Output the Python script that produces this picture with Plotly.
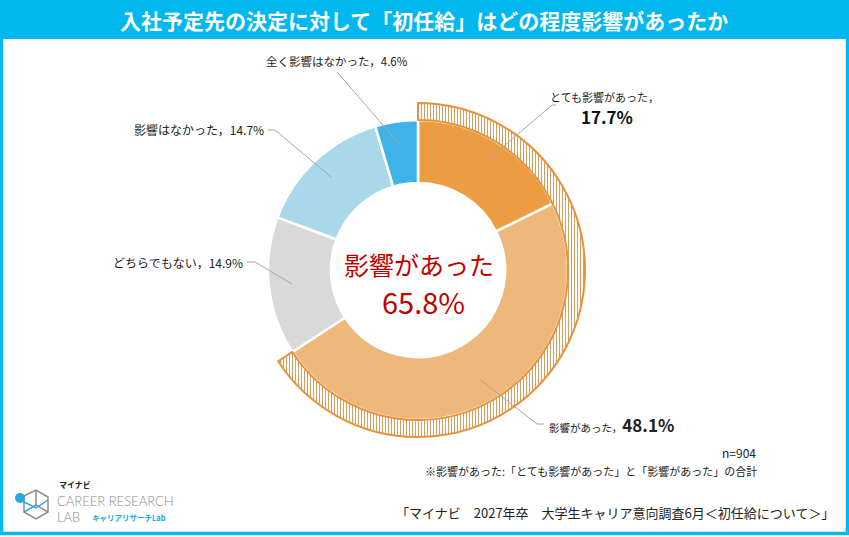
import math
import plotly.graph_objects as go

W, H = 849, 537

# ---------------- data ----------------
title = "入社予定先の決定に対して「初任給」はどの程度影響があったか"
categories = ["とても影響があった", "影響があった", "どちらでもない", "影響はなかった", "全く影響はなかった"]
values = [17.7, 48.1, 14.9, 14.7, 4.6]
colors = ["#EC9D42", "#EDB879", "#D9D9D9", "#A9D8EA", "#3FB3E7"]
group_label = "影響があった"
group_members = 2  # first two categories form 影響があった
n_text = "n=904"
note_text = "※影響があった:「とても影響があった」と「影響があった」の合計"
source_text = "「マイナビ　2027年卒　大学生キャリア意向調査6月＜初任給について＞」"

group_value = round(sum(values[:group_members]), 1)
total = sum(values)

# ---------------- geometry helpers (pixel -> paper) ----------------
def px(x):
    return x / W

def py(y):
    return 1 - y / H

CX, CY = 418, 270
R_IN = 150      # donut outer radius
R_HATCH = 167   # hatch ring outer radius
HOLE = 0.58

fig = go.Figure()

fig.add_trace(go.Pie(
    labels=categories, values=values, sort=False, direction="clockwise", rotation=0,
    hole=HOLE, textinfo="none", hoverinfo="label+percent",
    marker=dict(colors=colors, line=dict(color="white", width=2.5)),
    domain=dict(x=[px(CX - R_IN), px(CX + R_IN)], y=[py(CY + R_IN), py(CY - R_IN)]),
    showlegend=False,
))

fig.add_trace(go.Pie(
    labels=[group_label, "その他"], values=[group_value, total - group_value],
    sort=False, direction="clockwise", rotation=0,
    hole=R_IN / R_HATCH, textinfo="none", hoverinfo="skip",
    marker=dict(
        colors=["white", "rgba(0,0,0,0)"],
        line=dict(color=["#E8913A", "rgba(0,0,0,0)"], width=[2, 0]),
        pattern=dict(shape=["|", ""], fgcolor="#D99A55", bgcolor="white", size=3, solidity=0.33),
    ),
    domain=dict(x=[px(CX - R_HATCH), px(CX + R_HATCH)], y=[py(CY + R_HATCH), py(CY - R_HATCH)]),
    showlegend=False,
))

shapes = []
annotations = []

# frame and title bar
BLUE = "#00B8EE"
shapes.append(dict(type="rect", xref="paper", yref="paper", x0=px(1.5), x1=px(W - 1.5),
                   y0=py(H - 3.5), y1=py(0),
                   line=dict(color=BLUE, width=3.5), fillcolor="rgba(0,0,0,0)", layer="above"))
shapes.append(dict(type="rect", xref="paper", yref="paper", x0=0, x1=1, y0=py(39), y1=1,
                   line=dict(width=0), fillcolor=BLUE, layer="below"))
annotations.append(dict(x=px(424), y=py(20), xref="paper", yref="paper", text=f"<b>{title}</b>",
                        showarrow=False, font=dict(size=21, color="white", family="Noto Sans CJK JP"),
                        xanchor="center", yanchor="middle"))

# leader lines: anchor point inside slice computed from data
LINE_C = "#A6A6A6"
elbows = [
    [(552, 105), (556, 105)],
    [(537, 424), (544, 424)],
    [(255, 262), (247, 262)],
    [(275, 130), (268, 130)],
    [(337, 72)],
]
cum = 0
for i, v in enumerate(values):
    mid = (cum + v / 2) / total * 2 * math.pi
    cum += v
    ax = CX + 127 * math.sin(mid)
    ay = CY - 127 * math.cos(mid)
    pts = [(ax, ay)] + elbows[i]
    path = "M " + " L ".join(f"{px(x)},{py(y)}" for x, y in pts)
    shapes.append(dict(type="path", xref="paper", yref="paper", path=path,
                       line=dict(color=LINE_C, width=1)))

FONT = "Noto Sans CJK JP"
TXT = "#222222"
# 0: とても影響があった
annotations.append(dict(x=px(604), y=py(97), xref="paper", yref="paper",
                        text=f"{categories[0]}，", showarrow=False,
                        font=dict(size=11, color=TXT, family=FONT), xanchor="center", yanchor="middle"))
annotations.append(dict(x=px(607), y=py(116), xref="paper", yref="paper",
                        text=f"<b>{values[0]}%</b>", showarrow=False,
                        font=dict(size=17, color="#111111", family=FONT), xanchor="center", yanchor="middle"))
# 1: 影響があった
annotations.append(dict(x=px(547), y=py(424), xref="paper", yref="paper",
                        text=f"{categories[1]}，<span style='font-size:17px'><b>{values[1]}%</b></span>",
                        showarrow=False, font=dict(size=10.5, color=TXT, family=FONT),
                        xanchor="left", yanchor="middle"))
# 2,3: left labels
annotations.append(dict(x=px(245), y=py(262), xref="paper", yref="paper",
                        text=f"{categories[2]}，{values[2]}%", showarrow=False,
                        font=dict(size=12, color=TXT, family=FONT), xanchor="right", yanchor="middle"))
annotations.append(dict(x=px(266), y=py(130), xref="paper", yref="paper",
                        text=f"{categories[3]}，{values[3]}%", showarrow=False,
                        font=dict(size=12, color=TXT, family=FONT), xanchor="right", yanchor="middle"))
# 4: top label
annotations.append(dict(x=px(337), y=py(61), xref="paper", yref="paper",
                        text=f"{categories[4]}，{values[4]}%", showarrow=False,
                        font=dict(size=11.5, color=TXT, family=FONT), xanchor="center", yanchor="middle"))

# center text
RED = "#C00000"
annotations.append(dict(x=px(CX + 1), y=py(264), xref="paper", yref="paper", text=group_label,
                        showarrow=False, font=dict(size=25, color=RED, family=FONT),
                        xanchor="center", yanchor="middle"))
annotations.append(dict(x=px(CX + 5), y=py(301), xref="paper", yref="paper", text=f"{group_value}%",
                        showarrow=False, font=dict(size=29, color=RED, family=FONT),
                        xanchor="center", yanchor="middle"))

# notes
annotations.append(dict(x=px(758), y=py(452), xref="paper", yref="paper", text=n_text, showarrow=False,
                        font=dict(size=12, color=TXT, family=FONT), xanchor="right", yanchor="middle"))
annotations.append(dict(x=px(759), y=py(471), xref="paper", yref="paper", text=note_text, showarrow=False,
                        font=dict(size=11, color=TXT, family=FONT), xanchor="right", yanchor="middle"))
annotations.append(dict(x=px(836), y=py(512), xref="paper", yref="paper", text=source_text, showarrow=False,
                        font=dict(size=13, color=TXT, family=FONT), xanchor="right", yanchor="middle"))

# logo (decorative)
GRAY = "#8C8C8C"
LBLUE = "#29A8E0"
logo_paths = [
    ("M 24,496 L 36,490 L 48,497 L 48,512 L 36,519 L 24,512 Z", GRAY),
    ("M 36,490 L 36,505 L 48,512", GRAY),
    ("M 24,512 L 36,505", LBLUE),
    ("M 20,500 L 36,508 L 48,500", LBLUE),
]
for pth, c in logo_paths:
    toks = pth.split()
    out = []
    for t in toks:
        if "," in t:
            a, b = t.split(",")
            out.append(f"{px(float(a))},{py(float(b))}")
        else:
            out.append(t)
    shapes.append(dict(type="path", xref="paper", yref="paper", path=" ".join(out),
                       line=dict(color=c, width=1.5)))
shapes.append(dict(type="circle", xref="paper", yref="paper", x0=px(15), x1=px(25), y0=py(503), y1=py(493),
                   fillcolor=LBLUE, line=dict(width=0)))
annotations += [
    dict(x=px(57), y=py(484), text="<b>マイナビ</b>", font=dict(size=8, color="#222", family=FONT), xanchor="left"),
    dict(x=px(55), y=py(501), text="CAREER RESEARCH", font=dict(size=13, color=GRAY, family="Lato", weight=300), xanchor="left"),
    dict(x=px(55), y=py(517), text="LAB", font=dict(size=13, color=GRAY, family="Lato", weight=300), xanchor="left"),
    dict(x=px(90), y=py(517), text="<b>キャリアリサーチLab</b>", font=dict(size=7.5, color=LBLUE, family=FONT), xanchor="left"),
]
for a in annotations[-4:]:
    a.update(xref="paper", yref="paper", showarrow=False, yanchor="middle")

fig.update_layout(
    width=W, height=H, margin=dict(l=0, r=0, t=0, b=0),
    paper_bgcolor="white", plot_bgcolor="white",
    shapes=shapes, annotations=annotations, showlegend=False,
)

# remove the browser's default page margin so the 849x537 figure fills the window exactly
fig.write_html("out.html", config={"displayModeBar": False},
               post_script="document.body.style.margin='0';document.body.style.overflow='hidden';")
